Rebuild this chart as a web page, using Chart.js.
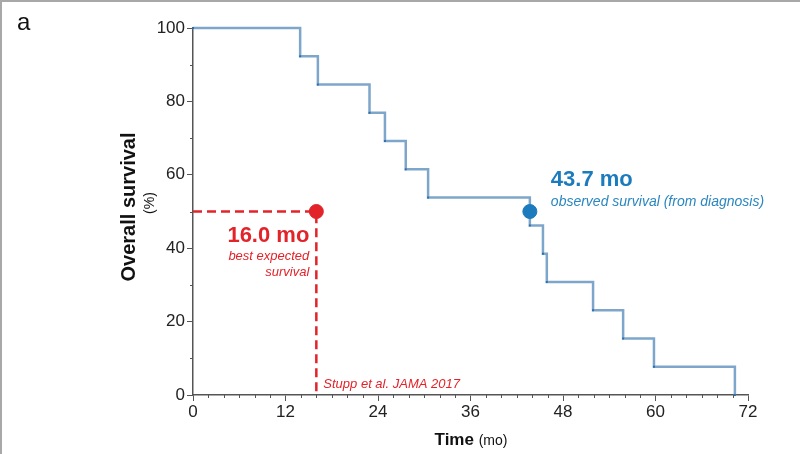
<!DOCTYPE html>
<html>
<head>
<meta charset="utf-8">
<script src="https://cdn.jsdelivr.net/npm/chart.js@4"></script>
<style>
  html, body { margin: 0; padding: 0; background: #fff; }
  #wrap { width: 800px; height: 454px; position: relative; }
</style>
</head>
<body>
<div id="wrap"><canvas id="myChart" width="800" height="454"></canvas></div>
<script>
// Kaplan-Meier steps (months, % surviving)
let times = [0, 13.9, 16.2, 22.9, 24.9, 27.6, 30.5, 43.7, 45.4, 45.9, 51.9, 55.8, 59.8, 70.3];
let survival = [100, 92.3, 84.6, 76.9, 69.2, 61.5, 53.8, 46.2, 38.5, 30.8, 23.1, 15.4, 7.7, 0];
let expectedPoint = [16.0, 50];
let observedPoint = [43.7, 50];
let xTicks = [0, 12, 24, 36, 48, 60, 72];
let yTicks = [0, 20, 40, 60, 80, 100];

const red = '#e3232a';
const blue = '#1b7bbd';
const FONT = '"Liberation Sans", Arial, sans-serif';

let kmData = times.map((t, i) => ({ x: t, y: survival[i] }));

// little extras drawn on top: minor ticks, axis titles, notes
const extras = {
  id: 'extras',
  beforeDraw(chart) {
    const c = chart.ctx;
    c.save();
    c.fillStyle = '#fff';
    c.fillRect(0, 0, chart.width, chart.height);
    c.strokeStyle = '#a8a8a8';
    c.lineWidth = 2;
    c.beginPath();
    c.moveTo(0, 1); c.lineTo(chart.width, 1);
    c.moveTo(1, 0); c.lineTo(1, chart.height);
    c.stroke();
    c.restore();
  },
  afterDraw(chart) {
    const c = chart.ctx;
    const xs = chart.scales.x, ys = chart.scales.y;
    const area = chart.chartArea;
    c.save();
    // minor ticks
    c.strokeStyle = '#555';
    c.lineWidth = 1;
    c.beginPath();
    for (let v = 2; v < 72; v += 2) {
      if (v % 12 === 0) continue;
      let px = Math.round(xs.getPixelForValue(v)) + 0.5;
      c.moveTo(px, area.bottom); c.lineTo(px, area.bottom + 3);
    }
    for (let v = 10; v < 100; v += 20) {
      let py = Math.round(ys.getPixelForValue(v)) + 0.5;
      c.moveTo(area.left, py); c.lineTo(area.left - 3, py);
    }
    c.stroke();

    // panel letter
    c.fillStyle = '#111';
    c.font = '24px ' + FONT;
    c.textAlign = 'left';
    c.textBaseline = 'alphabetic';
    c.fillText('a', 17, 30);

    // y title
    c.save();
    c.translate(135, 207);
    c.rotate(-Math.PI / 2);
    c.textAlign = 'center';
    c.font = 'bold 20px ' + FONT;
    c.fillText('Overall survival', 0, 0);
    c.font = '14px ' + FONT;
    c.fillText('(%)', 4, 19);
    c.restore();

    // x title
    c.font = 'bold 17px ' + FONT;
    let w1 = c.measureText('Time ').width;
    c.font = '14px ' + FONT;
    let w2 = c.measureText('(mo)').width;
    let sx = 471 - (w1 + w2) / 2;
    c.font = 'bold 17px ' + FONT;
    c.fillText('Time ', sx, 445);
    c.font = '14px ' + FONT;
    c.fillText('(mo)', sx + w1, 445);

    // red notes
    let ex = xs.getPixelForValue(expectedPoint[0]);
    let ey = ys.getPixelForValue(expectedPoint[1]);
    c.fillStyle = red;
    c.textAlign = 'right';
    c.font = 'bold 22px ' + FONT;
    c.fillText(expectedPoint[0].toFixed(1) + ' mo', ex - 7, ey + 30);
    c.font = 'italic 13px ' + FONT;
    c.fillText('best expected', ex - 7, ey + 48);
    c.fillText('survival', ex - 7, ey + 64);
    c.textAlign = 'left';
    c.fillText('Stupp et al. JAMA 2017', ex + 7, area.bottom - 7);

    // blue notes
    let ox = xs.getPixelForValue(observedPoint[0]);
    let oy = ys.getPixelForValue(observedPoint[1]);
    c.fillStyle = blue;
    c.font = 'bold 22px ' + FONT;
    c.fillText(observedPoint[0].toFixed(1) + ' mo', ox + 21, oy - 26);
    c.font = 'italic 14px ' + FONT;
    c.fillStyle = '#2a86bf';
    c.fillText('observed survival (from diagnosis)', ox + 21, oy - 6);
    c.restore();
  }
};

let ctx = document.getElementById('myChart').getContext('2d');

const myChart = new Chart(ctx, {
  type: 'line',
  data: {
    datasets: [
      {
        label: 'KM',
        data: kmData,
        stepped: 'before',
        borderColor: '#7ea6ca',
        borderWidth: 2.5,
        pointRadius: 1.4,
        pointStyle: 'rect',
        pointBackgroundColor: '#2a6eae',
        pointBorderWidth: 0,
        fill: false,
        clip: false,
        order: 3
      },
      {
        label: 'expected lines',
        data: [{ x: 0, y: expectedPoint[1] }, { x: expectedPoint[0], y: expectedPoint[1] }, { x: expectedPoint[0], y: 0 }],
        borderColor: red,
        borderWidth: 2.5,
        borderDash: [9, 5],
        pointRadius: 0,
        fill: false,
        order: 2
      },
      {
        label: 'expected',
        data: [{ x: expectedPoint[0], y: expectedPoint[1] }],
        showLine: false,
        pointRadius: 7,
        pointBackgroundColor: red,
        pointBorderColor: red,
        order: 1
      },
      {
        label: 'observed',
        data: [{ x: observedPoint[0], y: observedPoint[1] }],
        showLine: false,
        pointRadius: 7,
        pointBackgroundColor: blue,
        pointBorderColor: blue,
        order: 1
      }
    ]
  },
  options: {
    responsive: false,
    animation: false,
    layout: { padding: { top: 28, right: 52, left: 0, bottom: 0 } },
    plugins: {
      legend: { display: false },
      tooltip: { enabled: false }
    },
    scales: {
      x: {
        type: 'linear',
        min: 0,
        max: 72,
        afterBuildTicks: (scale) => { scale.ticks = xTicks.map(v => ({ value: v })); },
        afterFit: (scale) => { scale.height = 59; },
        ticks: { color: '#222', font: { family: FONT, size: 17 }, padding: 1, maxRotation: 0 },
        grid: { drawOnChartArea: false, drawTicks: true, tickLength: 6, color: '#555' },
        border: { color: '#555', width: 1.5 }
      },
      y: {
        min: 0,
        max: 100,
        afterBuildTicks: (scale) => { scale.ticks = yTicks.map(v => ({ value: v })); },
        afterFit: (scale) => { scale.width = 193; },
        ticks: { color: '#222', font: { family: FONT, size: 17 }, padding: 2 },
        grid: { drawOnChartArea: false, drawTicks: true, tickLength: 6, color: '#555' },
        border: { color: '#555', width: 1.5 }
      }
    }
  },
  plugins: [extras]
});
</script>
</body>
</html>
